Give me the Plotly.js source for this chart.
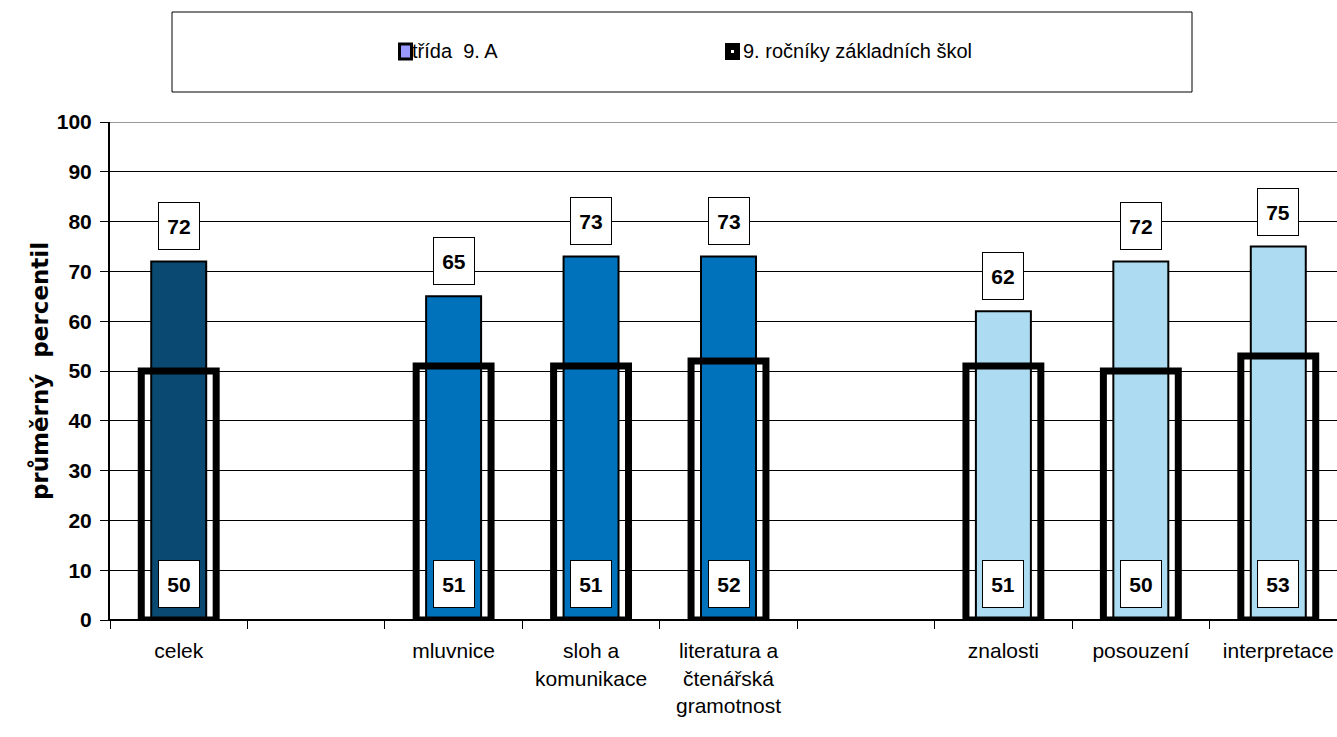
<!DOCTYPE html>
<html>
<head>
<meta charset="utf-8">
<script src="https://cdn.plot.ly/plotly-3.0.1.min.js"></script>
<style>
html, body { margin: 0; padding: 0; overflow: hidden; background: #fff; }
#chart { width: 1350px; height: 737px; }
</style>
</head>
<body>
<div id="chart"></div>
<script>
// ---- data ----
const categories = ["celek", " ", "mluvnice", "sloh a<br>komunikace", "literatura a<br>čtenářská<br>gramotnost", "  ", "znalosti", "posouzení", "interpretace"];
const class9A = [72, null, 65, 73, 73, null, 62, 72, 75];
const nationalGrade9 = [50, null, 51, 51, 52, null, 51, 50, 53];
const yTicks = [0, 10, 20, 30, 40, 50, 60, 70, 80, 90, 100];
const seriesNames = ["třída  9. A", "9. ročníky základních škol"];

// ---- styling ----
const barColors = ["#0A4A72", null, "#0072BC", "#0072BC", "#0072BC", null, "#ADDCF2", "#ADDCF2", "#ADDCF2"];
const FONT = "Liberation Sans, Arial, sans-serif";

const W = 1350, H = 737;
const M = {l: 110, r: 3, t: 122, b: 117};
const pw = W - M.l - M.r, ph = H - M.t - M.b;
const px = x => (x - M.l) / pw;
const py = y => (H - M.b - y) / ph;

const traces = [
  {
    type: "bar", name: seriesNames[0], x: categories, y: class9A,
    width: 0.4,
    marker: {color: barColors, line: {color: "#000", width: 2}},
    showlegend: false, hoverinfo: "skip"
  },
  {
    type: "bar", name: seriesNames[1], x: categories, y: nationalGrade9,
    width: 0.545,
    marker: {color: "rgba(0,0,0,0)", line: {color: "#000", width: 7}},
    showlegend: false, hoverinfo: "skip"
  }
];

const annotations = [];
const boxStyle = {
  showarrow: false, bgcolor: "#fff", bordercolor: "#000", borderwidth: 1, borderpad: 1,
  width: 38, height: 44, yanchor: "bottom",
  font: {family: FONT, size: 21, color: "#000", weight: "bold"}
};
categories.forEach((c, i) => {
  if (class9A[i] != null) {
    annotations.push(Object.assign({}, boxStyle, {x: c, y: class9A[i], xref: "x", yref: "y", yshift: 11, text: "<b>" + class9A[i] + "</b>"}));
  }
  if (nationalGrade9[i] != null) {
    annotations.push(Object.assign({}, boxStyle, {x: c, y: 0, xref: "x", yref: "y", yshift: 12, text: "<b>" + nationalGrade9[i] + "</b>"}));
  }
});
// legend texts
annotations.push({xref: "paper", yref: "paper", x: px(410), y: py(51), xanchor: "left", yanchor: "middle", showarrow: false,
  text: seriesNames[0], font: {family: FONT, size: 20, color: "#000"}});
annotations.push({xref: "paper", yref: "paper", x: px(741), y: py(51), xanchor: "left", yanchor: "middle", showarrow: false,
  text: seriesNames[1], font: {family: FONT, size: 20, color: "#000"}});

const shapes = [
  // legend frame
  {type: "rect", xref: "paper", yref: "paper", x0: px(172), x1: px(1192), y0: py(92), y1: py(12), line: {color: "#000", width: 1}, fillcolor: "#fff", layer: "below"},
  // legend symbols
  {type: "rect", xref: "paper", yref: "paper", x0: px(399.5), x1: px(411.5), y0: py(59), y1: py(44), line: {color: "#000", width: 3}, fillcolor: "#9999FF"},
  {type: "rect", xref: "paper", yref: "paper", x0: px(725), x1: px(740), y0: py(60), y1: py(43), line: {color: "#000", width: 0}, fillcolor: "#000"},
  {type: "rect", xref: "paper", yref: "paper", x0: px(731), x1: px(734), y0: py(53), y1: py(50), line: {color: "#fff", width: 0}, fillcolor: "#fff"},
  // grey top gridline
  {type: "line", xref: "paper", yref: "y", x0: 0, x1: 1, y0: 100, y1: 100, line: {color: "#999", width: 2}, layer: "above"}
];

const layout = {
  width: W, height: H,
  margin: M,
  paper_bgcolor: "#fff", plot_bgcolor: "#fff",
  barmode: "overlay",
  showlegend: false,
  xaxis: {
    type: "category", categoryorder: "array", categoryarray: categories,
    range: [-0.5, 8.5],
    tickson: "boundaries", ticks: "outside", ticklen: 8, tickcolor: "#000", tickwidth: 1,
    tickangle: 0, ticklabelstandoff: 12,
    showline: true, linecolor: "#000", linewidth: 1,
    showgrid: false, zeroline: false,
    tickfont: {family: FONT, size: 21, color: "#000"},
    fixedrange: true
  },
  yaxis: {
    range: [0, 100], tickvals: yTicks, ticktext: yTicks.map(String),
    ticks: "outside", ticklen: 8, tickcolor: "#000", tickwidth: 1,
    ticklabelstandoff: 4,
    showline: true, linecolor: "#000", linewidth: 2,
    showgrid: true, gridcolor: "#000", gridwidth: 1,
    zeroline: true, zerolinecolor: "#000", zerolinewidth: 2,
    tickfont: {family: FONT, size: 21, color: "#000", weight: "bold"},
    title: {text: "průměrný  percentil", standoff: 2, font: {family: "DejaVu Sans, sans-serif", size: 23, color: "#000", weight: "bold"}},
    fixedrange: true
  },
  annotations: annotations,
  shapes: shapes
};

Plotly.newPlot("chart", traces, layout, {displayModeBar: false, staticPlot: true});
</script>
</body>
</html>
